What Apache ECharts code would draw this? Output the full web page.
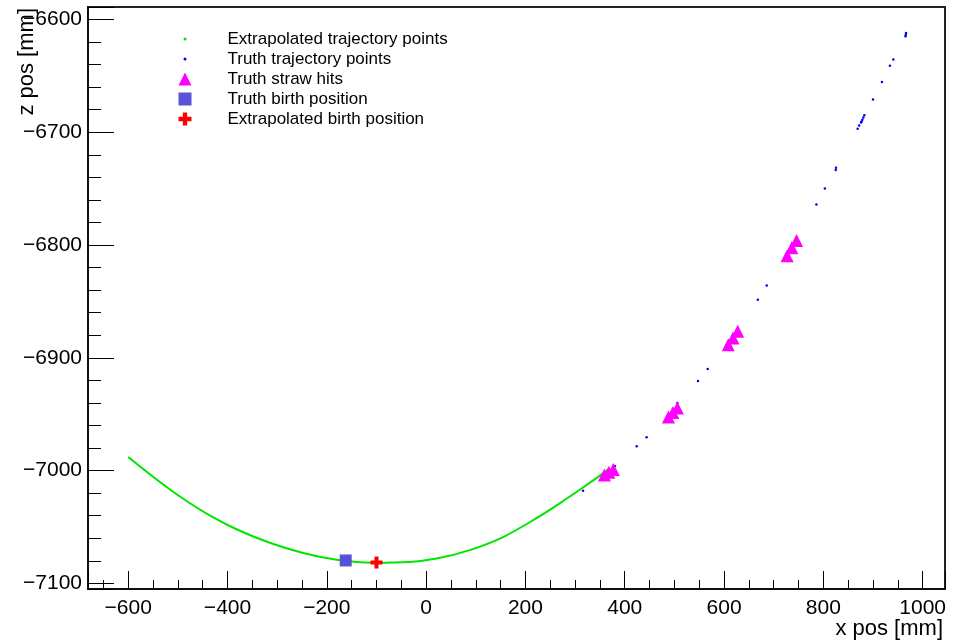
<!DOCTYPE html>
<html>
<head>
<meta charset="utf-8">
<title>trajectory</title>
<script src="https://cdn.jsdelivr.net/npm/echarts@6/dist/echarts.min.js"></script>
<style>
  html, body { margin: 0; padding: 0; background: #fff; }
  #chart { width: 960px; height: 641px; }
</style>
</head>
<body>
<div id="chart"></div>
<script>
// all values are [x pos, z pos] in mm
let extrapolatedTrajectory = [
  [-600, -6988], [-550, -7005.5], [-496, -7023], [-435, -7040], [-382, -7052],
  [-315, -7064], [-248, -7073], [-180, -7079], [-107, -7081.7], [-33, -7081],
  [21, -7078], [88, -7070.5], [155, -7059], [223, -7042], [276, -7027],
  [316, -7015], [350, -7004.5], [368, -6998.5]
]
let truthTrajectory = [
  [316, -7018], [380, -6996], [424, -6978.5], [444, -6970.5], [506, -6940],
  [547.5, -6920.5], [567, -6910], [668, -6848.5], [686, -6836], [786, -6764],
  [803, -6750], [825, -6733.5], [825.5, -6731.5], [869, -6697], [872, -6694],
  [876, -6691.5], [877, -6690.5], [878.5, -6689], [880.5, -6687], [882.5, -6685],
  [900, -6671], [918, -6655.5], [934, -6641], [941, -6635.5], [965.5, -6615],
  [966, -6613.5], [966.5, -6612]
]
let strawHits = [
  [359, -7004], [368, -7001.5], [377, -6999],
  [488, -6952.5], [497, -6948.5], [506, -6944.5],
  [608.5, -6888.5], [618, -6882.5], [627.5, -6876.5],
  [727, -6809.5], [736.5, -6802.5], [746, -6796]
]
let truthBirth = [[-162, -7079.7]]
let extrapolatedBirth = [[-100, -7081.6]]

let xRange = [-681, 1045]
let zRange = [-7105, -6589]

let font = 'Liberation Sans'
let crossPath = 'path://M3,0h3v3h3v3h-3v3h-3v-3h-3v-3h3z'
let minus = (v) => String(v).replace('-', '\u2212')

let chart = echarts.init(document.getElementById('chart'))

let option = {
  animation: false,
  backgroundColor: '#fff',
  grid: {
    left: 88,
    right: 15,
    top: 7,
    bottom: 52,
    show: true,
    borderColor: '#222',
    borderWidth: 2,
    outerBoundsMode: 'none',
  },
  xAxis: {
    type: 'value',
    min: xRange[0],
    max: xRange[1],
    splitNumber: 8,
    minInterval: 200,
    maxInterval: 200,
    axisLine: { onZero: false, lineStyle: { color: '#111', width: 2 } },
    axisTick: { inside: true, length: 18, lineStyle: { color: '#000' } },
    minorTick: { show: true, splitNumber: 4, length: 9, lineStyle: { color: '#000' } },
    splitLine: { show: false },
    axisLabel: {
      showMinLabel: false,
      showMaxLabel: false,
      margin: 9,
      color: '#000',
      fontFamily: font,
      fontSize: 21,
      formatter: minus,
    },
  },
  yAxis: {
    type: 'value',
    min: zRange[0],
    max: zRange[1],
    splitNumber: 6,
    minInterval: 100,
    maxInterval: 100,
    axisLine: { onZero: false, lineStyle: { color: '#111', width: 2 } },
    axisTick: { inside: true, length: 26, lineStyle: { color: '#000' } },
    minorTick: { show: true, splitNumber: 5, length: 13, lineStyle: { color: '#000' } },
    splitLine: { show: false },
    axisLabel: {
      showMinLabel: false,
      showMaxLabel: false,
      margin: 6,
      color: '#000',
      fontFamily: font,
      fontSize: 21,
      formatter: minus,
    },
  },
  legend: [
    {
      orient: 'vertical',
      left: 183.5,
      top: 29,
      padding: 0,
      itemGap: 0,
      itemWidth: 3,
      itemHeight: 3,
      selectedMode: false,
      textStyle: { fontFamily: font, fontSize: 17, color: '#000', lineHeight: 20, padding: [0, 0, 0, 36] },
      data: [
        { name: 'Extrapolated trajectory points', icon: 'circle', itemStyle: { color: '#00e600', opacity: 1 } },
        { name: 'Truth trajectory points', icon: 'circle', itemStyle: { color: '#0000ff', opacity: 1 } },
      ],
    },
    {
      orient: 'vertical',
      left: 178.5,
      top: 69,
      padding: 0,
      itemGap: 0,
      itemWidth: 13,
      itemHeight: 13,
      selectedMode: false,
      textStyle: { fontFamily: font, fontSize: 17, color: '#000', lineHeight: 20, padding: [0, 0, 0, 31] },
      data: [
        { name: 'Truth straw hits', icon: 'triangle' },
        { name: 'Truth birth position', icon: 'rect' },
        { name: 'Extrapolated birth position', icon: crossPath },
      ],
    },
  ],
  graphic: [
    {
      type: 'text',
      x: 943,
      y: 629,
      style: { text: 'x pos [mm]', font: '22px ' + font, fill: '#000', align: 'right', verticalAlign: 'middle' },
    },
    {
      type: 'text',
      x: 27,
      y: 8,
      rotation: Math.PI / 2,
      style: { text: 'z pos [mm]', font: '22px ' + font, fill: '#000', align: 'right', verticalAlign: 'middle' },
    },
  ],
  series: [
    {
      name: 'Extrapolated trajectory points',
      type: 'line',
      data: extrapolatedTrajectory,
      smooth: 0.3,
      showSymbol: false,
      color: '#00e600',
      lineStyle: { color: '#00e600', width: 2 },
      z: 2,
    },
    {
      name: 'Truth trajectory points',
      type: 'scatter',
      data: truthTrajectory,
      symbol: 'circle',
      symbolSize: 2.5,
      itemStyle: { color: '#0000ff', opacity: 1 },
      z: 3,
    },
    {
      name: 'Truth straw hits',
      type: 'scatter',
      data: strawHits,
      symbol: 'triangle',
      symbolSize: 13,
      itemStyle: { color: '#ff00ff', opacity: 1 },
      z: 4,
    },
    {
      name: 'Truth birth position',
      type: 'scatter',
      data: truthBirth,
      symbol: 'rect',
      symbolSize: 12,
      itemStyle: { color: '#5a52d6', opacity: 1 },
      z: 5,
    },
    {
      name: 'Extrapolated birth position',
      type: 'scatter',
      data: extrapolatedBirth,
      symbol: crossPath,
      symbolSize: 12,
      itemStyle: { color: '#ff0000', opacity: 1 },
      z: 5,
    },
  ],
}

chart.setOption(option)
</script>
</body>
</html>
